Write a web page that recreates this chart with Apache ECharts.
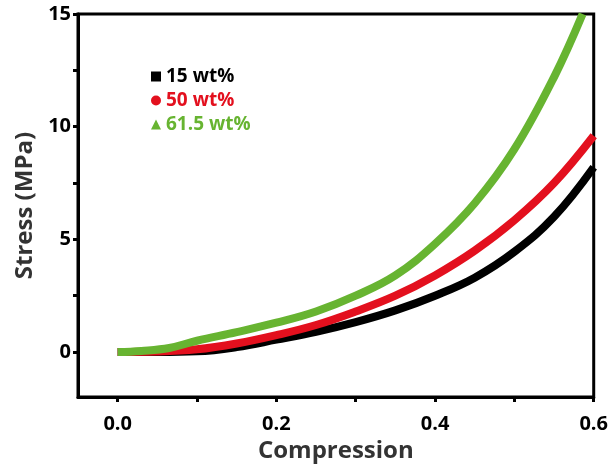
<!DOCTYPE html>
<html><head><meta charset="utf-8">
<script src="https://cdn.jsdelivr.net/npm/echarts@6/dist/echarts.min.js"></script>
<style>html,body{margin:0;padding:0;background:#fff}#c{width:611px;height:468px}</style>
</head><body><div id="c"></div>
<script>
const seriesNames = ['15 wt%', '50 wt%', '61.5 wt%'];
const colors = ['#000000', '#e3101e', '#67b431'];
const blackX = [0, 0.05, 0.1, 0.15, 0.2, 0.25, 0.3, 0.35, 0.4, 0.45, 0.5, 0.55, 0.6];
const blackY = [0, 0, 0.03, 0.22, 0.55, 0.9, 1.33, 1.85, 2.5, 3.3, 4.45, 6.0, 8.2];
const redX = [0, 0.05, 0.1, 0.15, 0.2, 0.25, 0.3, 0.35, 0.4, 0.45, 0.5, 0.55, 0.6];
const redY = [0, 0.02, 0.12, 0.38, 0.75, 1.2, 1.8, 2.5, 3.4, 4.5, 5.85, 7.5, 9.6];
const greenX = [0, 0.03, 0.065, 0.1, 0.15, 0.2, 0.25, 0.3, 0.35, 0.4, 0.45, 0.5, 0.55, 0.586];
const greenY = [0, 0.05, 0.18, 0.5, 0.88, 1.3, 1.8, 2.5, 3.4, 4.8, 6.6, 9.0, 12.2, 15];
const xTicks = [0, 0.2, 0.4, 0.6];
const yTicks = [0, 5, 10, 15];
const icons = ['rect', 'circle', 'triangle'];

const pairs = (xs, ys) => xs.map((x, i) => [x, ys[i]]);
const data = [pairs(blackX, blackY), pairs(redX, redY), pairs(greenX, greenY)];
const font = '"Open Sans", "DejaVu Sans", sans-serif';

const chart = echarts.init(document.getElementById('c'));
chart.setOption({
  animation: false,
  backgroundColor: '#fff',
  grid: { left: 78, right: 17, top: 14, bottom: 70, show: true, borderColor: '#000', borderWidth: 3 },
  legend: {
    orient: 'vertical', left: 146, top: 62, itemGap: 5, itemWidth: 10, itemHeight: 10,
    selectedMode: false,
    data: seriesNames.map((n, i) => ({ name: n, icon: icons[i], itemStyle: { color: colors[i] },
      textStyle: { color: colors[i], fontWeight: 'bold', fontSize: 19, fontFamily: font } }))
  },
  xAxis: {
    type: 'value', min: -0.05, max: 0.6, interval: 0.05,
    name: 'Compression', nameLocation: 'middle', nameGap: 37,
    nameTextStyle: { fontSize: 24, fontWeight: 'bold', color: '#333', fontFamily: font },
    axisLine: { show: true, onZero: false, lineStyle: { color: '#000', width: 3 } },
    axisTick: { show: true, length: 5, lineStyle: { width: 3, color: '#000' },
      customValues: [0, 0.1, 0.2, 0.3, 0.4, 0.5, 0.6] },
    axisLabel: { margin: 17, fontSize: 20, fontWeight: 'bold', color: '#000', fontFamily: font,
      customValues: xTicks, formatter: v => v.toFixed(1) },
    splitLine: { show: false }
  },
  yAxis: {
    type: 'value', min: -2, max: 15, interval: 0.5,
    name: 'Stress (MPa)', nameLocation: 'middle', nameGap: 40,
    nameTextStyle: { fontSize: 24, fontWeight: 'bold', color: '#333', fontFamily: font },
    axisLine: { show: true, onZero: false, lineStyle: { color: '#000', width: 3 } },
    axisTick: { show: true, length: 5, lineStyle: { width: 3, color: '#000' },
      customValues: [0, 2.5, 5, 7.5, 10, 12.5, 15] },
    axisLabel: { margin: 7, fontSize: 20, fontWeight: 'bold', color: '#000', fontFamily: font,
      customValues: yTicks },
    splitLine: { show: false }
  },
  series: data.map((d, i) => ({
    name: seriesNames[i], type: 'line', data: d, smooth: 0.4,
    showSymbol: false, symbol: 'none',
    lineStyle: { color: colors[i], width: 8 }, itemStyle: { color: colors[i] }, z: 2 + i,
    clip: true
  }))
});
</script></body></html>
